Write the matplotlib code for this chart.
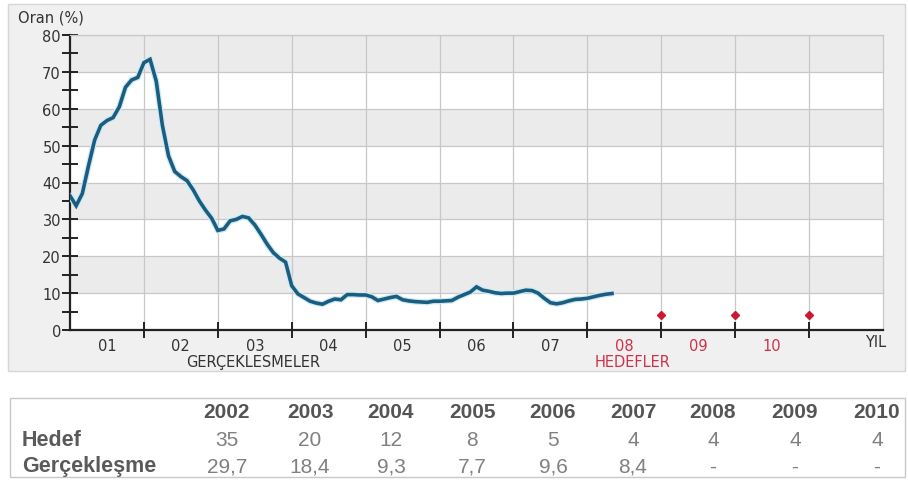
import numpy as np
import matplotlib
matplotlib.use("Agg")
import matplotlib.pyplot as plt
from matplotlib.patches import Rectangle

# Annual CPI inflation (%), monthly, starting January 2001
inflation = [
    36.4, 33.7, 37.0, 44.5, 51.5, 55.5, 56.8, 57.6, 60.5, 65.8, 67.8, 68.5,   # 2001
    72.5, 73.4, 67.5, 55.5, 47.2, 43.0, 41.6, 40.5, 38.0, 35.0, 32.5, 30.3,   # 2002
    27.0, 27.4, 29.6, 30.0, 30.8, 30.4, 28.5, 26.0, 23.3, 21.0, 19.5, 18.4,   # 2003
    12.0, 9.8, 8.8, 7.8, 7.3, 7.0, 7.8, 8.4, 8.2, 9.6, 9.6, 9.5,              # 2004
    9.5, 9.0, 8.0, 8.4, 8.8, 9.1, 8.2, 7.9, 7.7, 7.6, 7.5, 7.8,               # 2005
    7.8, 7.9, 8.0, 8.9, 9.6, 10.3, 11.7, 10.8, 10.5, 10.1, 9.9, 10.0,         # 2006
    10.0, 10.4, 10.8, 10.7, 10.0, 8.6, 7.4, 7.1, 7.4, 7.9, 8.3, 8.4,          # 2007
    8.6, 9.0, 9.4, 9.7, 9.9,                                                  # 2008
]
start_year = 2001

# Year-end targets and realisations
years = [2002, 2003, 2004, 2005, 2006, 2007, 2008, 2009, 2010]
hedef = [35, 20, 12, 8, 5, 4, 4, 4, 4]
gerceklesme = [29.7, 18.4, 9.3, 7.7, 9.6, 8.4, None, None, None]

x_labels = ["01", "02", "03", "04", "05", "06", "07", "08", "09", "10"]
target_label_years = ["08", "09", "10"]

W, H = 908, 481
fig = plt.figure(figsize=(W / 100, H / 100), dpi=100)
fig.patch.set_facecolor("white")


def fx(px):
    return px / W


def fy(py):
    return 1 - py / H


# Chart panel background
fig.patches.append(Rectangle((fx(8), fy(372)), fx(897), 367 / H,
                             transform=fig.transFigure, facecolor="#f0f0f0",
                             edgecolor="#d6d6d6", lw=1, zorder=-2))
# Table frame
fig.patches.append(Rectangle((fx(10), fy(478)), fx(895), 79 / H,
                             transform=fig.transFigure, facecolor="white",
                             edgecolor="#c8c8c8", lw=1, zorder=-2))

ax = fig.add_axes([fx(70), fy(331), fx(883 - 70), (331 - 36) / H])
ax.set_facecolor("white")
ax.set_xlim(2001, 2012)
ax.set_ylim(0, 80)

# Alternating horizontal bands
for lo in range(10, 80, 20):
    ax.axhspan(lo, lo + 10, color="#ebebeb", zorder=0, lw=0)

# Grid
for yv in range(10, 81, 10):
    ax.axhline(yv, color="#c8c8c8", lw=0.9, zorder=1)
for xv in range(2002, 2012):
    ax.axvline(xv, color="#c8c8c8", lw=0.9, zorder=1)

# Inflation line
t = start_year + np.arange(len(inflation)) / 12.0
ax.plot(t, inflation, color="#cdeaf6", lw=4.4, zorder=3, solid_capstyle="round")
ax.plot(t, inflation, color="#1b5d7e", lw=2.6, zorder=4, solid_joinstyle="miter")

# Target diamonds for the years without realisation
tx = [y + 1 for y, g in zip(years, gerceklesme) if g is None]
ty = [h for h, g in zip(hedef, gerceklesme) if g is None]
ax.plot(tx, ty, linestyle="none", marker="D", ms=4.5, color="#cc1830",
        mec="#cc1830", zorder=5)

# Spines
for s in ["top", "right"]:
    ax.spines[s].set_color("#c8c8c8")
    ax.spines[s].set_linewidth(0.9)
ax.spines["left"].set_color("#222222")
ax.spines["left"].set_linewidth(1.6)
ax.spines["bottom"].set_color("#222222")
ax.spines["bottom"].set_linewidth(1.6)

# Y ticks
ax.set_yticks(range(0, 81, 10))
ax.set_yticks(range(5, 80, 10), minor=True)
ax.tick_params(axis="y", which="both", direction="inout", length=11, width=1.4,
               color="#222222", labelsize=10.5, labelcolor="#333333", pad=1)

# X ticks: year boundaries as marks, year labels centred in between
ax.set_xticks(range(2002, 2012))
ax.set_xticklabels([])
ax.set_xticks([start_year + i + 0.5 for i in range(len(x_labels))], minor=True)
ax.set_xticklabels(x_labels, minor=True)
ax.tick_params(axis="x", which="major", direction="inout", length=11, width=1.4,
               color="#222222")
ax.tick_params(axis="x", which="minor", length=0, labelsize=10.5,
               labelcolor="#333333", pad=6)
for lbl in ax.get_xticklabels(minor=True):
    if lbl.get_text() in target_label_years:
        lbl.set_color("#d0314a")

fig.text(fx(18), fy(18), "Oran (%)", fontsize=10.5, color="#333333",
         ha="left", va="center")
fig.text(fx(876), fy(343), "YIL", fontsize=10.5, color="#333333",
         ha="center", va="center")
fig.text(fx(253), fy(363), "GERÇEKLESMELER", fontsize=10.5, color="#333333",
         ha="center", va="center")
fig.text(fx(633), fy(363), "HEDEFLER", fontsize=10.5, color="#d0314a",
         ha="center", va="center")

# Table below the chart
tbl_font = ["Liberation Sans", "DejaVu Sans"]
col_x = [227, 310, 391, 472, 553, 633, 713, 795, 877]
row_y = [413, 440, 467]


def fmt(v):
    if v is None:
        return "-"
    if float(v).is_integer():
        return str(int(v))
    return f"{v:.1f}".replace(".", ",")


for cx, yr, h, g in zip(col_x, years, hedef, gerceklesme):
    fig.text(fx(cx), fy(row_y[0]), str(yr), fontsize=15, fontweight="bold",
             color="#555555", ha="center", va="center", family=tbl_font)
    fig.text(fx(cx), fy(row_y[1]), fmt(h), fontsize=15, color="#808080",
             ha="center", va="center", family=tbl_font)
    fig.text(fx(cx), fy(row_y[2]), fmt(g), fontsize=15, color="#808080",
             ha="center", va="center", family=tbl_font)

fig.text(fx(22), fy(row_y[1]), "Hedef", fontsize=15.5, fontweight="bold",
         color="#5a5a5a", ha="left", va="center", family=tbl_font)
fig.text(fx(22), fy(row_y[2]), "Gerçekleşme", fontsize=15.5, fontweight="bold",
         color="#5a5a5a", ha="left", va="center", family=tbl_font)

fig.savefig("out.png", dpi=100, facecolor="white")
